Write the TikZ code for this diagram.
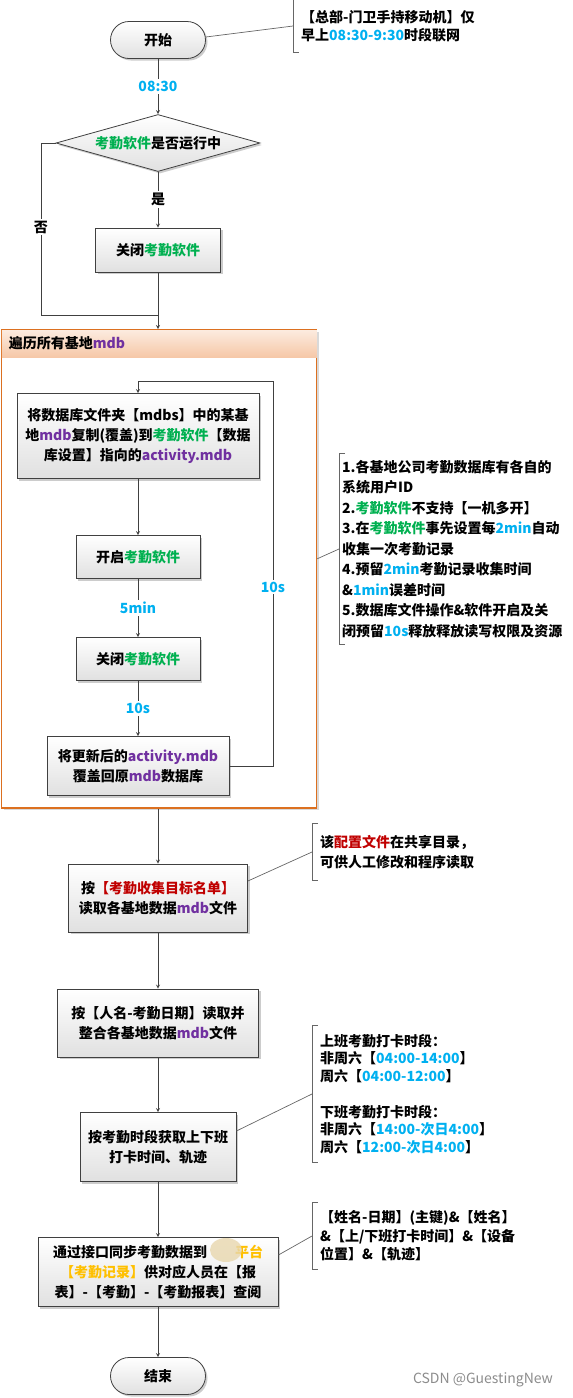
\documentclass[tikz,border=0pt]{standalone}
\usepackage{fontspec}
\setmainfont{Noto Sans CJK SC}
\usetikzlibrary{shapes.geometric,shadows,positioning}

\definecolor{linec}{HTML}{404040}
\definecolor{kqgreen}{HTML}{00B050}
\definecolor{kqcyan}{HTML}{00B0F0}
\definecolor{kqpurple}{HTML}{7030A0}
\definecolor{kqred}{HTML}{C00000}
\definecolor{kqorange}{HTML}{FFC000}
\definecolor{loopc}{HTML}{DC7020}
\definecolor{headtop}{HTML}{FCEBDF}
\definecolor{headbot}{HTML}{F6C8A8}
\definecolor{blurc}{HTML}{E8D7AE}

\newcommand{\txtgreen}[1]{\textcolor{kqgreen}{#1}}
\newcommand{\txtpurple}[1]{\textcolor{kqpurple}{#1}}
\newcommand{\txtcyan}[1]{\textcolor{kqcyan}{#1}}
\newcommand{\txtred}[1]{\textcolor{kqred}{#1}}
\newcommand{\txtorange}[1]{\textcolor{kqorange}{#1}}

\tikzset{
  base/.style={font=\fontsize{14}{20}\selectfont\bfseries, inner sep=0pt, align=center, text=black},
  stepbox/.style={base, rectangle, draw=linec, line width=0.8pt, top color=white, bottom color=black!12,
    drop shadow={shadow xshift=2pt, shadow yshift=-2pt, fill=black, opacity=.2}},
  termbox/.style={stepbox, minimum width=95pt, minimum height=37pt, rounded corners=18.5pt},
  decbox/.style={stepbox, diamond, aspect=3.58, minimum width=204pt, minimum height=57pt},
  flow/.style={draw=linec, line width=0.8pt},
  lbl/.style={base, fill=white, inner sep=2pt, text=kqcyan},
  note/.style={base, align=left, anchor=west, inner xsep=8pt, inner ysep=0pt},
  bracket/.style={draw=black!60, line width=0.7pt},
  loopbox/.style={draw=loopc, line width=1.5pt, fill=white, anchor=north west,
    drop shadow={shadow xshift=2pt, shadow yshift=-2pt, fill=black, opacity=.15}},
  loophead/.style={base, anchor=north west, top color=headtop, bottom color=headbot,
    text width=301pt, align=left, inner xsep=7pt, minimum height=27pt}
}

\begin{document}
\begin{tikzpicture}[x=1pt,y=-1pt,>=stealth]
\useasboundingbox (0,0) rectangle (573,1398);

% Start and running check
\node[termbox] (start) at (158,40) {开始};
\node[decbox] (check) at (158,143) {\txtgreen{考勤软件}是否运行中};
\node[stepbox, minimum width=125pt, minimum height=44pt] (close1) at (158,250) {关闭\txtgreen{考勤软件}};

\draw[flow,->] (start) -- (check) node[lbl, pos=.5] (t0830) {08:30};
\draw[flow,->] (check) -- (close1) node[lbl, text=black, pos=.5] (yes) {是};

% Loop over all bases (container)
\node[loopbox, minimum width=315pt, minimum height=478pt] (loop) at (0.8,329) {};
\node[loophead] (loophd) at ([xshift=0.8pt,yshift=-0.8pt]loop.north west) {遍历所有基地\txtpurple{mdb}};

% "no" branch joins before the container
\coordinate (noturn) at (41,315);
\coordinate (merge) at (158,315);
\draw[flow] (check.west) -| (noturn) -- (merge);
\node[lbl, text=black] (no) at (41,227) {否};
\draw[flow,->] (close1) -- (loop.north -| close1.south);

% Steps inside the loop
\node[stepbox, minimum width=242pt, minimum height=85pt] (copydb) at (138,436)
  {将数据库文件夹【mdbs】中的某基\\地\txtpurple{mdb}复制(覆盖)到\txtgreen{考勤软件}【数据\\库设置】指向的\txtpurple{activity.mdb}};
\node[stepbox, minimum width=124pt, minimum height=43pt] (open) at (138,557) {开启\txtgreen{考勤软件}};
\node[stepbox, minimum width=124pt, minimum height=43pt] (close2) at (138,659) {关闭\txtgreen{考勤软件}};
\node[stepbox, minimum width=182pt, minimum height=59pt] (backdb) at (138,766)
  {将更新后的\txtpurple{activity.mdb}\\覆盖回原\txtpurple{mdb}数据库};

\draw[flow,->] (copydb) -- (open);
\draw[flow,->] (open) -- (close2) node[lbl, pos=.5] (t5min) {5min};
\draw[flow,->] (close2) -- (backdb) node[lbl, pos=.5] (t10s) {10s};

% back to the next base
\coordinate (loopup) at (273,381);
\draw[flow,->] (backdb.east) -| (loopup) -| (copydb.north);
\node[lbl] (t10sb) at (273,587) {10s};

% Steps after the loop
\node[stepbox, minimum width=179pt, minimum height=68pt] (readlist) at (158,898)
  {按\txtred{【考勤收集目标名单】}\\读取各基地数据\txtpurple{mdb}文件};
\node[stepbox, minimum width=201pt, minimum height=68pt] (merge2) at (158,1023)
  {按【人名-考勤日期】读取并\\整合各基地数据\txtpurple{mdb}文件};
\node[stepbox, minimum width=156pt, minimum height=69pt] (punch) at (158,1147)
  {按考勤时段获取上下班\\打卡时间、轨迹};
\node[stepbox, minimum width=240pt, minimum height=69pt] (sync) at (158,1272)
  {通过接口同步考勤数据到\hspace{2em}\txtorange{平台}\\\txtorange{【考勤记录】}供对应人员在【报\\表】-【考勤】-【考勤报表】查阅};
\fill[blurc, opacity=.8] (226,1250) ellipse (16 and 12);
\node[termbox] (stop) at (158,1376) {结束};

\draw[flow,->] (loop.south -| readlist.north) -- (readlist);
\draw[flow,->] (readlist) -- (merge2);
\draw[flow,->] (merge2) -- (punch);
\draw[flow,->] (punch) -- (sync);
\draw[flow,->] (sync) -- (stop);

% Notes
\node[note, font=\fontsize{14}{18}\selectfont\bfseries, minimum height=52pt] (n1) at (293,26)
  {【总部-门卫手持移动机】仅\\早上\txtcyan{08:30-9:30}时段联网};
\node[note, font=\fontsize{14}{20.5}\selectfont\bfseries, inner xsep=3pt, minimum height=190pt] (n2) at (339,549)
  {1.各基地公司考勤数据库有各自的\\系统用户ID\\2.\txtgreen{考勤软件}不支持【一机多开】\\3.在\txtgreen{考勤软件}事先设置每\txtcyan{2min}自动\\收集一次考勤记录\\4.预留\txtcyan{2min}考勤记录收集时间\\\&\txtcyan{1min}误差时间\\5.数据库文件操作\&软件开启及关\\闭预留\txtcyan{10s}释放释放读写权限及资源};
\node[note, font=\fontsize{14}{20}\selectfont\bfseries, minimum height=57pt] (n3) at (312,852)
  {该\txtred{配置文件}在共享目录，\\可供人工修改和程序读取};
\node[note, font=\fontsize{14}{17.7}\selectfont\bfseries, minimum height=136pt] (n4) at (312,1094)
  {上班考勤打卡时段：\\非周六【\txtcyan{04:00-14:00}】\\周六【\txtcyan{04:00-12:00}】\\[17.7pt]下班考勤打卡时段：\\非周六【\txtcyan{14:00-次日4:00}】\\周六【\txtcyan{12:00-次日4:00}】};
\node[note, font=\fontsize{14}{18.5}\selectfont\bfseries, minimum height=67pt] (n5) at (312,1236)
  {【姓名-日期】(主键)\&【姓名】\\\&【上/下班打卡时间】\&【设备\\位置】\&【轨迹】};

\foreach \n in {n1,n2,n3,n4,n5}
  \draw[bracket] ([xshift=6pt]\n.north west) -| (\n.south west) -- ++(6,0);

\draw[bracket] ([yshift=3pt]start.east) -- (n1.west);
\draw[bracket] ([yshift=10pt]loop.east) -- (n2.west);
\draw[bracket] ([yshift=17pt]readlist.east) -- (n3.west);
\draw[bracket] ([yshift=16pt]punch.east) -- (n4.west);
\draw[bracket] ([yshift=17pt]sync.east) -- (n5.west);

% watermark
\node[font=\fontsize{14}{14}\selectfont, text=black!45, inner sep=0pt] (mark) at (483,1380) {CSDN @GuestingNew};

\end{tikzpicture}
\end{document}
